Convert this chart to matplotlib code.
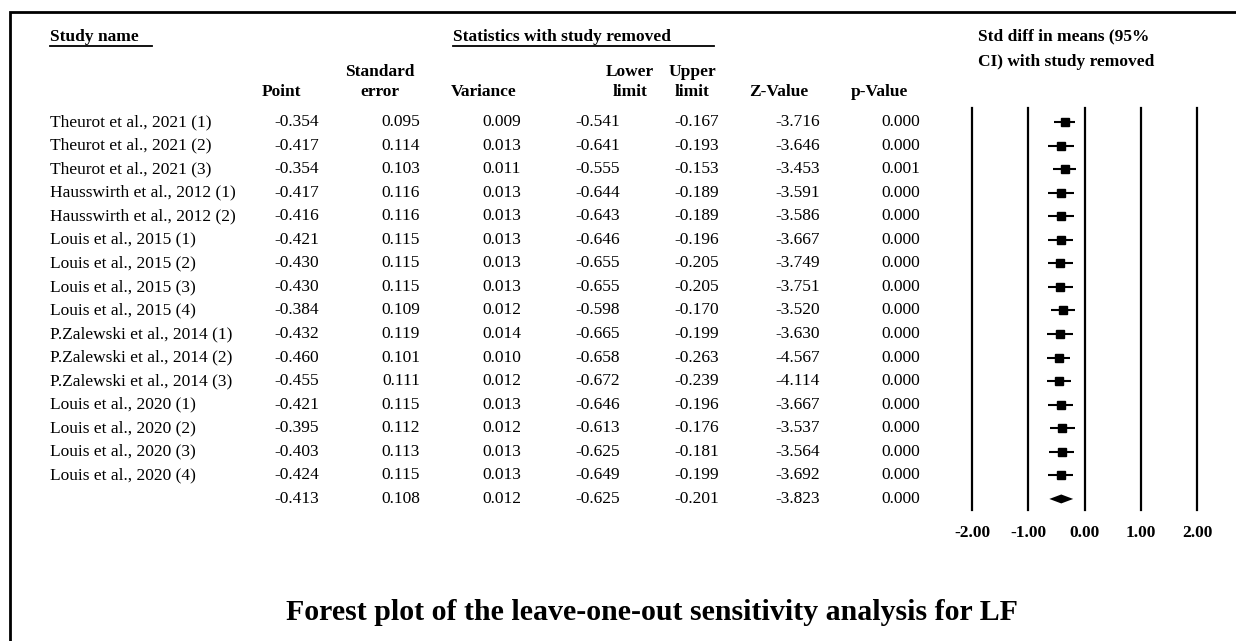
#!/usr/bin/env python

# Leave-one-out forest plot, laid out like a CMA table.

import numpy as np
import matplotlib
matplotlib.use('Agg')
import matplotlib.pyplot as plt

plt.rcParams['font.family'] = ['Liberation Serif', 'DejaVu Serif']

studies = ["Theurot et al., 2021 (1)", "Theurot et al., 2021 (2)", "Theurot et al., 2021 (3)",
           "Hausswirth et al., 2012 (1)", "Hausswirth et al., 2012 (2)",
           "Louis et al., 2015 (1)", "Louis et al., 2015 (2)", "Louis et al., 2015 (3)",
           "Louis et al., 2015 (4)",
           "P.Zalewski et al., 2014 (1)", "P.Zalewski et al., 2014 (2)", "P.Zalewski et al., 2014 (3)",
           "Louis et al., 2020 (1)", "Louis et al., 2020 (2)", "Louis et al., 2020 (3)",
           "Louis et al., 2020 (4)", ""]
point = [-0.354, -0.417, -0.354, -0.417, -0.416, -0.421, -0.430, -0.430, -0.384,
         -0.432, -0.460, -0.455, -0.421, -0.395, -0.403, -0.424, -0.413]
std_err = [0.095, 0.114, 0.103, 0.116, 0.116, 0.115, 0.115, 0.115, 0.109,
           0.119, 0.101, 0.111, 0.115, 0.112, 0.113, 0.115, 0.108]
variance = [0.009, 0.013, 0.011, 0.013, 0.013, 0.013, 0.013, 0.013, 0.012,
            0.014, 0.010, 0.012, 0.013, 0.012, 0.013, 0.013, 0.012]
lower = [-0.541, -0.641, -0.555, -0.644, -0.643, -0.646, -0.655, -0.655, -0.598,
         -0.665, -0.658, -0.672, -0.646, -0.613, -0.625, -0.649, -0.625]
upper = [-0.167, -0.193, -0.153, -0.189, -0.189, -0.196, -0.205, -0.205, -0.170,
         -0.199, -0.263, -0.239, -0.196, -0.176, -0.181, -0.199, -0.201]
z_value = [-3.716, -3.646, -3.453, -3.591, -3.586, -3.667, -3.749, -3.751, -3.520,
           -3.630, -4.567, -4.114, -3.667, -3.537, -3.564, -3.692, -3.823]
p_value = [0.000, 0.000, 0.001, 0.000, 0.000, 0.000, 0.000, 0.000, 0.000,
           0.000, 0.000, 0.000, 0.000, 0.000, 0.000, 0.000, 0.000]
ticks = [-2.0, -1.0, 0.0, 1.0, 2.0]

W, H = 1236, 641
fig = plt.figure(figsize=(W / 100, H / 100), dpi=100)

# background axes in pixel units, y going down
bg = fig.add_axes([0, 0, 1, 1])
bg.set_xlim(0, W)
bg.set_ylim(H, 0)
bg.axis('off')

# frame (left + top edge)
bg.plot([10, 10, W], [H, 12, 12], color='black', lw=2, solid_joinstyle='miter')

row0, dy = 122, 23.56
fs = 12.5
hfs = 12.5

def underline(x0, x1, y):
  bg.plot([x0, x1], [y, y], color='black', lw=1.3)

bg.text(50, 37, "Study name", fontsize=hfs, fontweight='bold', va='center')
underline(50, 152, 46)
bg.text(453, 37, "Statistics with study removed", fontsize=hfs, fontweight='bold', va='center')
underline(453, 714, 46)
bg.text(978, 36, "Std diff in means (95%", fontsize=hfs, fontweight='bold', va='center')
bg.text(978, 62, "CI) with study removed", fontsize=hfs, fontweight='bold', va='center')

# (right edge of values, header line 1, header line 2, header centre, values)
cols = [(319, "", "Point", 281, point),
        (420, "Standard", "error", 380, std_err),
        (521, "", "Variance", 484, variance),
        (620, "Lower", "limit", 630, lower),
        (719, "Upper", "limit", 692, upper),
        (820, "", "Z-Value", 779, z_value),
        (920, "", "p-Value", 879, p_value)]

for xr, h1, h2, hx, vals in cols:
  if h1:
    bg.text(hx, 76, h1, fontsize=hfs, fontweight='bold', ha='center', va='baseline')
  bg.text(hx, 96, h2, fontsize=hfs, fontweight='bold', ha='center', va='baseline')
  for i, v in enumerate(vals):
    bg.text(xr, row0 + dy * i, "%.3f" % v, fontsize=fs, ha='right', va='center')

for i, name in enumerate(studies):
  bg.text(50, row0 + dy * i, name, fontsize=fs, ha='left', va='center')

# forest panel
x0, x1 = 972, 1197
ytop, ybot = 108, 510
ax = fig.add_axes([x0 / W, 1 - ybot / H, (x1 - x0) / W, (ybot - ytop) / H])
ax.set_xlim(-2, 2)
ax.set_ylim((ybot - row0) / dy, (ytop - row0) / dy)
for s in ax.spines.values():
  s.set_visible(False)
for t in ticks:
  ax.axvline(t, color='black', lw=1.6, clip_on=False)

n = len(point) - 1
for i in range(n):
  ax.plot([lower[i], upper[i]], [i, i], color='black', lw=1.5, solid_capstyle='butt')
  ax.plot(point[i], i, marker='s', color='black', markersize=5.8)

# pooled diamond
k = n
ax.fill([lower[k], point[k], upper[k], point[k]], [k, k - 0.19, k, k + 0.19],
        color='black', lw=0)

ax.set_yticks([])
ax.set_xticks(ticks)
ax.set_xticklabels(["%.2f" % t for t in ticks], fontsize=12.5, fontweight='bold')
ax.tick_params(axis='x', length=0, pad=11)
ax.set_facecolor('none')

bg.text(652, 612, "Forest plot of the leave-one-out sensitivity analysis for LF",
        fontsize=21.5, fontweight='bold', ha='center', va='center')

fig.savefig('out.png', dpi=100)
